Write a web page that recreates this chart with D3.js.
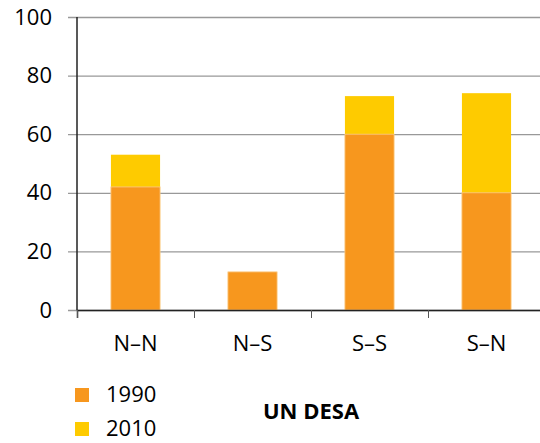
<!DOCTYPE html>
<html>
<head>
<meta charset="utf-8">
<script src="https://cdn.jsdelivr.net/npm/d3@7"></script>
<style>
  body { margin: 0; background: #fff; }
  text { font-family: "Open Sans", sans-serif; }
</style>
</head>
<body>
<div id="chart"></div>
<script>
const categories = ['N\u2013N', 'N\u2013S', 'S\u2013S', 'S\u2013N'];
const values1990 = [42, 13, 60, 40];
const values2010 = [53, 13, 73, 74];
const yTicks = [0, 20, 40, 60, 80, 100];
const series = ['1990', '2010'];
const colors = ['#f7971e', '#fecb00'];

const width = 540;
const height = 443;
const plotLeft = 77;
const plotTop = 17;
const plotBottom = 310;
const fontSize = 22;

const svg = d3.select('#chart')
              .append('svg')
              .attr('width', width)
              .attr('height', height);

const xScale = d3.scaleBand()
                 .domain(categories)
                 .range([plotLeft, plotLeft + 468])
                 .paddingInner(0.58)
                 .paddingOuter(0.29);

const yScale = d3.scaleLinear()
                 .domain([0, 100])
                 .range([plotBottom, plotTop]);

// grid + y labels
const yAxis = d3.axisLeft(yScale)
                .tickValues(yTicks)
                .tickSize(-(width - plotLeft + 9))
                .tickPadding(16);

const gy = svg.append('g')
              .attr('transform', 'translate(' + (plotLeft - 9) + ', 0)')
              .call(yAxis);
gy.select('.domain').remove();
gy.selectAll('.tick line').attr('stroke', '#999').attr('stroke-width', 1.3);
gy.selectAll('.tick text')
  .attr('font-size', fontSize)
  .attr('fill', '#000')
  .attr('font-family', '"Open Sans", sans-serif');

// bars: 2010 behind, 1990 in front
svg.append('g').selectAll('rect')
   .data(values2010)
   .join('rect')
   .attr('x', (d, i) => xScale(categories[i]))
   .attr('y', d => yScale(d))
   .attr('width', xScale.bandwidth())
   .attr('height', d => plotBottom - yScale(d))
   .attr('fill', colors[1]);

svg.append('g').selectAll('rect')
   .data(values1990)
   .join('rect')
   .attr('x', (d, i) => xScale(categories[i]))
   .attr('y', d => yScale(d))
   .attr('width', xScale.bandwidth())
   .attr('height', d => plotBottom - yScale(d))
   .attr('fill', colors[0])
   .attr('stroke', '#fbc98a')
   .attr('stroke-width', 0.8);

// y axis line
svg.append('line')
   .attr('x1', plotLeft).attr('x2', plotLeft)
   .attr('y1', plotTop).attr('y2', plotBottom)
   .attr('stroke', '#222').attr('stroke-width', 1.5);

// x axis
const xBoundaries = d3.scaleLinear().domain([0, 4]).range([plotLeft, plotLeft + 468]);
const gx = svg.append('g')
              .attr('transform', 'translate(0, ' + plotBottom + ')')
              .call(d3.axisBottom(xBoundaries).ticks(4).tickSize(8).tickFormat(''));
gx.select('.domain').attr('stroke', '#222').attr('stroke-width', 1.5);
gx.selectAll('.tick line').attr('stroke', '#555');

svg.append('g').selectAll('text')
   .data(categories)
   .join('text')
   .attr('x', d => xScale(d) + xScale.bandwidth() / 2)
   .attr('y', 351)
   .attr('text-anchor', 'middle')
   .attr('font-size', fontSize)
   .attr('fill', '#000')
   .text(d => d);

// legend
const legend = svg.append('g').selectAll('g')
                  .data(series)
                  .join('g')
                  .attr('transform', (d, i) => 'translate(75, ' + (388 + i * 34) + ')');
legend.append('rect')
      .attr('width', 14).attr('height', 14)
      .attr('fill', (d, i) => colors[i]);
legend.append('text')
      .attr('x', 31).attr('y', 14)
      .attr('font-size', fontSize)
      .attr('fill', '#000')
      .text(d => d);

svg.append('text')
   .attr('x', 311).attr('y', 419)
   .attr('text-anchor', 'middle')
   .attr('font-size', fontSize)
   .attr('font-weight', 'bold')
   .attr('fill', '#000')
   .text('UN DESA');
</script>
</body>
</html>
